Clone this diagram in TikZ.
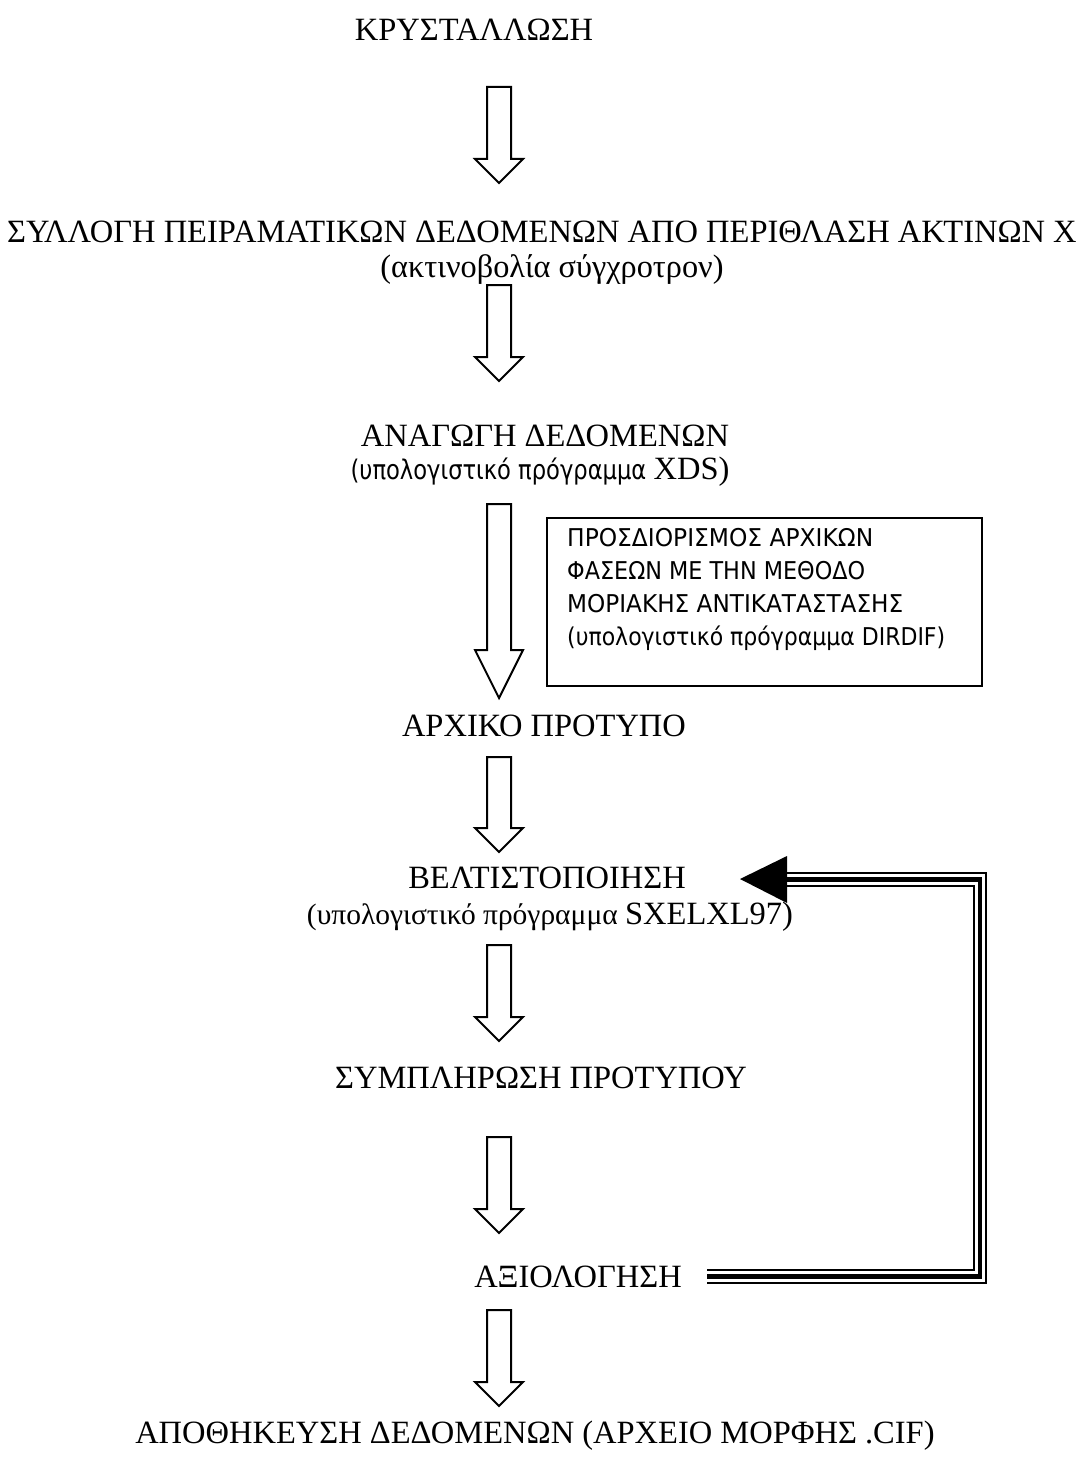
\documentclass[tikz,border=0pt]{standalone}
\usepackage{fontspec}
\usepackage{graphicx}
\setmainfont{Liberation Serif}
\newfontfamily\tah{DejaVu Sans}
\tikzset{
  lbl/.style={anchor=base, inner sep=0pt, font=\fontsize{32.5}{38}\selectfont},
  blockarr/.style={draw=black, line width=2pt, fill=white, line join=miter},
  boxframe/.style={draw=black, line width=2pt},
}
\newcommand\blockdown[3]{% top, tip, head length
  \draw[blockarr] (487,#1) -- (511,#1) -- (511,{#2-#3}) -- (523,{#2-#3}) -- (499,#2)
    -- (475,{#2-#3}) -- (487,{#2-#3}) -- cycle;}
\begin{document}
\begin{tikzpicture}[x=1pt,y=-1pt]
\useasboundingbox (0,0) rectangle (1086,1479);
\fill[white] (0,0) rectangle (1086,1479);

\node[lbl] (k1) at (474,41) {ΚΡΥΣΤΑΛΛΩΣΗ};
\node[lbl] (k2) at (542,243) {ΣΥΛΛΟΓΗ ΠΕΙΡΑΜΑΤΙΚΩΝ ΔΕΔΟΜΕΝΩΝ ΑΠΟ ΠΕΡΙΘΛΑΣΗ ΑΚΤΙΝΩΝ Χ};
\node[lbl] (k2b) at (552,277) {\resizebox{343pt}{\height}{(ακτινοβολία σύγχροτρον)}};
\node[lbl] (k3) at (545,446) {ΑΝΑΓΩΓΗ ΔΕΔΟΜΕΝΩΝ};
\node[lbl] (k3b) at (540,479) {\resizebox{303pt}{\height}{\tah\fontsize{27}{32}\selectfont (υπολογιστικό πρόγραμμα }XDS)};
\node[lbl] (k4) at (544,736) {ΑΡΧΙΚΟ ΠΡΟΤΥΠΟ};
\node[lbl] (k5) at (547,888) {ΒΕΛΤΙΣΤΟΠΟΙΗΣΗ};
\node[lbl] (k5b) at (550,924) {{\fontsize{29.5}{34}\selectfont (υπολογιστικό πρόγραμμα }SXELXL97)};
\node[lbl] (k6) at (541,1088) {ΣΥΜΠΛΗΡΩΣΗ ΠΡΟΤΥΠΟΥ};
\node[lbl] (k7) at (578,1287) {ΑΞΙΟΛΟΓΗΣΗ};
\node[lbl] (k8) at (535,1443) {ΑΠΟΘΗΚΕΥΣΗ ΔΕΔΟΜΕΝΩΝ (ΑΡΧΕΙΟ ΜΟΡΦΗΣ .CIF)};

% side box
\draw[boxframe] (547,518) rectangle (982,686);
\node[anchor=north west, inner sep=0pt, align=left,
      font=\tah\fontsize{24.5}{33}\selectfont] (box) at (567,528) {%
  \resizebox{306pt}{\height}{ΠΡΟΣΔΙΟΡΙΣΜΟΣ ΑΡΧΙΚΩΝ}\\
  \resizebox{298pt}{\height}{ΦΑΣΕΩΝ ΜΕ ΤΗΝ ΜΕΘΟΔΟ}\\
  \resizebox{336pt}{\height}{ΜΟΡΙΑΚΗΣ ΑΝΤΙΚΑΤΑΣΤΑΣΗΣ}\\
  \resizebox{378pt}{\height}{(υπολογιστικό πρόγραμμα DIRDIF)}};

% block arrows
\blockdown{87}{183}{24}
\blockdown{285}{381}{24}
\blockdown{504}{698}{48}
\blockdown{757}{852}{24}
\blockdown{945}{1041}{24}
\blockdown{1137}{1233}{24}
\blockdown{1310}{1406}{24}

% feedback triple line
\coordinate (fbA) at (707,1276.5);
\coordinate (fbB) at (980,1276.5);
\coordinate (fbC) at (980,879.5);
\coordinate (fbD) at (787,879.5);
\draw[line width=14.5pt, line join=miter] (fbA) -- (fbB) -- (fbC) -- (fbD);
\draw[line width=10.5pt, white, line join=miter] ([xshift=-1pt]fbA) -- (fbB) -- (fbC) -- ([xshift=-1pt]fbD);
\draw[line width=4.5pt, line join=miter] (fbA) -- (fbB) -- (fbC) -- (fbD);
\fill (740,879) -- (787,856) -- (787,903) -- cycle;
\end{tikzpicture}
\end{document}
